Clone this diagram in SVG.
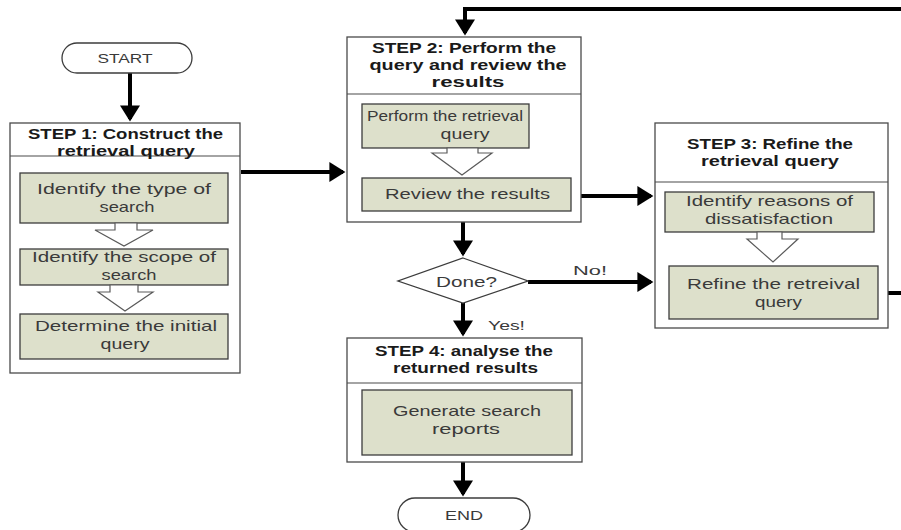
<svg xmlns="http://www.w3.org/2000/svg" width="901" height="530" viewBox="0 0 901 530">
<defs>
<style>
.bg{fill:#ffffff}
.step{fill:#ffffff;stroke:#4a4a4a;stroke-width:1.3}
.div{stroke:#4a4a4a;stroke-width:1.2}
.task{fill:#dde0cb;stroke:#3c3c3c;stroke-width:1.3}
.hollow{fill:#ffffff;stroke:#5a5a5a;stroke-width:1.2}
.pill{fill:#ffffff;stroke:#3c3c3c;stroke-width:1.3}
.hdr{font-family:"Liberation Sans",Arial,sans-serif;font-weight:bold;font-size:15px;fill:#1a1a1a;text-anchor:middle}
.txt{font-family:"Liberation Sans",Arial,sans-serif;font-size:15px;fill:#3a3a3a;text-anchor:middle}
.lbl{font-family:"Liberation Sans",Arial,sans-serif;font-size:13.5px;fill:#3a3a3a;text-anchor:middle}
.conn{fill:none;stroke:#000000;stroke-width:4}
</style>
<marker id="ah" markerWidth="5" markerHeight="5" refX="3.4" refY="2.5" orient="auto" markerUnits="strokeWidth">
<path d="M0,0 L4,2.5 L0,5 Z" fill="#000000"/>
</marker>
</defs>
<rect class="bg" x="0" y="0" width="901" height="530"/>

<g id="connectors">
<path class="conn" d="M130,73 V119" marker-end="url(#ah)"/>
<path class="conn" d="M241,172 H343" marker-end="url(#ah)"/>
<path class="conn" d="M571,196 H651" marker-end="url(#ah)"/>
<path class="conn" d="M463,222 V254" marker-end="url(#ah)"/>
<path class="conn" d="M528,282 H651" marker-end="url(#ah)"/>
<path class="conn" d="M463,303 V334" marker-end="url(#ah)"/>
<path class="conn" d="M463,462 V494" marker-end="url(#ah)"/>
<path class="conn" d="M878,293 H906 V9 H465 V33" marker-end="url(#ah)"/>
</g>

<g id="start">
<rect class="pill" x="62" y="43" width="130" height="30" rx="15"/>
<text class="lbl" x="125" y="63" textLength="55" lengthAdjust="spacingAndGlyphs">START</text>
</g>

<g id="step1">
<rect class="step" x="10" y="123" width="230" height="250"/>
<line class="div" x1="10" y1="156" x2="240" y2="156"/>
<text class="hdr" x="125.5" y="138.5" textLength="195" lengthAdjust="spacingAndGlyphs">STEP 1: Construct the</text>
<text class="hdr" x="126" y="155.5" textLength="138" lengthAdjust="spacingAndGlyphs">retrieval query</text>
</g>

<g id="task-type">
<rect class="task" x="20" y="173" width="208" height="50"/>
<text class="txt" x="124" y="194" textLength="174" lengthAdjust="spacingAndGlyphs">Identify the type of</text>
<text class="txt" x="127" y="212" textLength="55" lengthAdjust="spacingAndGlyphs">search</text>
</g>
<polygon class="hollow" points="115,223 137,223 137,230 153,230 124,246 95,230 115,230"/>

<g id="task-scope">
<rect class="task" x="20" y="249" width="208" height="36"/>
<text class="txt" x="124" y="262" textLength="184" lengthAdjust="spacingAndGlyphs">Identify the scope of</text>
<text class="txt" x="129" y="280" textLength="55" lengthAdjust="spacingAndGlyphs">search</text>
</g>
<polygon class="hollow" points="110,285 138,285 138,292 153,292 125,311 98,292 110,292"/>

<g id="task-initial">
<rect class="task" x="20" y="314" width="208" height="45"/>
<text class="txt" x="126" y="331" textLength="182" lengthAdjust="spacingAndGlyphs">Determine the initial</text>
<text class="txt" x="125" y="349" textLength="49" lengthAdjust="spacingAndGlyphs">query</text>
</g>

<g id="step2">
<rect class="step" x="347" y="37" width="234" height="185"/>
<line class="div" x1="347" y1="94" x2="581" y2="94"/>
<text class="hdr" x="464" y="53" textLength="184" lengthAdjust="spacingAndGlyphs">STEP 2: Perform the</text>
<text class="hdr" x="468" y="70" textLength="197" lengthAdjust="spacingAndGlyphs">query and review the</text>
<text class="hdr" x="468" y="87" textLength="73" lengthAdjust="spacingAndGlyphs">results</text>
</g>

<g id="task-perform">
<rect class="task" x="362" y="104" width="167" height="44"/>
<text class="txt" x="445" y="121" textLength="156" lengthAdjust="spacingAndGlyphs">Perform the retrieval</text>
<text class="txt" x="465" y="139" textLength="49" lengthAdjust="spacingAndGlyphs">query</text>
</g>
<polygon class="hollow" points="447,148 478,148 478,153 492,153 462,175 432,153 447,153"/>

<g id="task-review">
<rect class="task" x="362" y="178" width="209" height="33"/>
<text class="txt" x="467.5" y="199" textLength="165" lengthAdjust="spacingAndGlyphs">Review the results</text>
</g>

<g id="done">
<polygon class="pill" points="463,258 528,281 463,303 398,281"/>
<text class="txt" x="466.5" y="287" textLength="61" lengthAdjust="spacingAndGlyphs">Done?</text>
</g>
<text class="lbl" x="590" y="275" textLength="34" lengthAdjust="spacingAndGlyphs">No!</text>
<text class="lbl" x="506.5" y="330" textLength="37" lengthAdjust="spacingAndGlyphs">Yes!</text>

<g id="step3">
<rect class="step" x="655" y="123" width="233" height="205"/>
<line class="div" x1="655" y1="182" x2="888" y2="182"/>
<text class="hdr" x="770" y="149" textLength="166" lengthAdjust="spacingAndGlyphs">STEP 3: Refine the</text>
<text class="hdr" x="770" y="166" textLength="138" lengthAdjust="spacingAndGlyphs">retrieval query</text>
</g>

<g id="task-reasons">
<rect class="task" x="665" y="192" width="209" height="40"/>
<text class="txt" x="769.5" y="206" textLength="167" lengthAdjust="spacingAndGlyphs">Identify reasons of</text>
<text class="txt" x="769" y="224" textLength="128" lengthAdjust="spacingAndGlyphs">dissatisfaction</text>
</g>
<polygon class="hollow" points="757,232 782,232 782,239 798,239 773,262 747,239 757,239"/>

<g id="task-refine">
<rect class="task" x="669" y="266" width="209" height="53"/>
<text class="txt" x="773.5" y="289" textLength="173" lengthAdjust="spacingAndGlyphs">Refine the retreival</text>
<text class="txt" x="778.5" y="307" textLength="47" lengthAdjust="spacingAndGlyphs">query</text>
</g>

<g id="step4">
<rect class="step" x="347" y="338" width="235" height="124"/>
<line class="div" x1="347" y1="383" x2="582" y2="383"/>
<text class="hdr" x="464" y="356" textLength="178" lengthAdjust="spacingAndGlyphs">STEP 4: analyse the</text>
<text class="hdr" x="465.5" y="373" textLength="145" lengthAdjust="spacingAndGlyphs">returned results</text>
</g>

<g id="task-report">
<rect class="task" x="362" y="390" width="210" height="65"/>
<text class="txt" x="467" y="416" textLength="148" lengthAdjust="spacingAndGlyphs">Generate search</text>
<text class="txt" x="466" y="434" textLength="68" lengthAdjust="spacingAndGlyphs">reports</text>
</g>

<g id="end">
<rect class="pill" x="398" y="498" width="132" height="34" rx="17"/>
<text class="lbl" x="464" y="520" textLength="38" lengthAdjust="spacingAndGlyphs">END</text>
</g>
</svg>
